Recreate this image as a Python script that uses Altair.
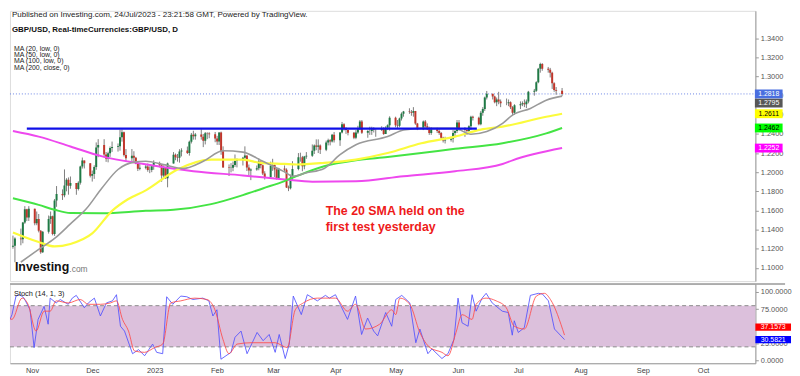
import altair as alt
import pandas as pd
import numpy as np

# ---------------- daily candles (GBP/USD, D) ----------------
first_open = 1.1220
close_vals = [
    # Oct 2022
    1.1232, 1.1307, 1.1300, 1.1474, 1.1612, 1.1526, 1.1619, 1.1467,
    # Nov
    1.1511, 1.1388, 1.1163, 1.1377, 1.1511, 1.1540, 1.1353, 1.1705, 1.1773, 1.1758, 1.1860,
    1.1920, 1.1858, 1.1887, 1.1824, 1.1890, 1.2059, 1.2121, 1.2094, 1.1963, 1.1980, 1.2054,
    # Dec
    1.2258, 1.2283, 1.2185, 1.2140, 1.2198, 1.2252, 1.2264, 1.2272, 1.2366, 1.2417, 1.2180,
    1.2146, 1.2172, 1.2151, 1.2088, 1.2037, 1.2046, 1.2060, 1.2024, 1.2023, 1.2061, 1.2097,
    # Jan 2023
    1.2072, 1.1966, 1.2055, 1.1936, 1.2091, 1.2183, 1.2155, 1.2150, 1.2215, 1.2227, 1.2201,
    1.2318, 1.2390, 1.2376, 1.2394, 1.2370, 1.2328, 1.2407, 1.2405, 1.2396, 1.2352, 1.2321,
    # Feb
    1.2415, 1.2219, 1.2049, 1.2043, 1.2047, 1.2075, 1.2117, 1.2124, 1.2150, 1.2174,
    1.2048, 1.2018, 1.2028, 1.2040, 1.2111, 1.2072, 1.1985, 1.1946, 1.2064, 1.2074,
    # Mar
    1.2028, 1.1934, 1.2038, 1.2025, 1.1841, 1.1833, 1.1944, 1.2032, 1.2155, 1.2155, 1.2062, 1.2165,
    1.2171, 1.2224, 1.2278, 1.2265, 1.2280, 1.2235, 1.2310, 1.2335, 1.2320, 1.2390, 1.2335,
    # Apr
    1.2415, 1.2500, 1.2460, 1.2440, 1.2413, 1.2360, 1.2415, 1.2450, 1.2530, 1.2413,
    1.2430, 1.2430, 1.2450, 1.2440, 1.2440, 1.2455, 1.2400, 1.2465, 1.2490, 1.2570,
    # May
    1.2490, 1.2485, 1.2560, 1.2610, 1.2635, 1.2630, 1.2620, 1.2640, 1.2510, 1.2450, 1.2530, 1.2480,
    1.2450, 1.2410, 1.2450, 1.2430, 1.2410, 1.2360, 1.2330, 1.2340, 1.2350, 1.2410, 1.2430,
    # Jun
    1.2520, 1.2450, 1.2440, 1.2430, 1.2480, 1.2580, 1.2570, 1.2500, 1.2620, 1.2660, 1.2780,
    1.2820, 1.2790, 1.2730, 1.2760, 1.2740, 1.2720, 1.2720, 1.2730, 1.2680, 1.2620, 1.2700,
    # Jul
    1.2710, 1.2720, 1.2710, 1.2740, 1.2840, 1.2850, 1.2940, 1.3080, 1.3130, 1.3080,
    1.3070, 1.3040, 1.2930, 1.2860, 1.2850, 1.2818,
]
high_vals = [
    1.1337, 1.1320, 1.1410, 1.1480, 1.1645, 1.1617, 1.1645, 1.1615,
    1.1589, 1.1563, 1.1395, 1.1384, 1.1547, 1.1589, 1.1546, 1.1720, 1.1855, 1.1820, 1.2029,
    1.1937, 1.1945, 1.1955, 1.1884, 1.1905, 1.2068, 1.2153, 1.2123, 1.2083, 1.2017, 1.2072,
    1.2311, 1.2345, 1.2345, 1.2211, 1.2214, 1.2269, 1.2320, 1.2300, 1.2444, 1.2446, 1.2424,
    1.2242, 1.2242, 1.2219, 1.2160, 1.2099, 1.2087, 1.2080, 1.2090, 1.2061, 1.2070, 1.2124,
    1.2110, 1.2084, 1.2070, 1.2055, 1.2100, 1.2210, 1.2195, 1.2190, 1.2240, 1.2250, 1.2268,
    1.2330, 1.2410, 1.2433, 1.2410, 1.2448, 1.2400, 1.2420, 1.2417, 1.2418, 1.2420, 1.2380,
    1.2418, 1.2424, 1.2270, 1.2081, 1.2095, 1.2112, 1.2185, 1.2144, 1.2160, 1.2270,
    1.2175, 1.2080, 1.2040, 1.2070, 1.2146, 1.2110, 1.2080, 1.2010, 1.2110, 1.2140,
    1.2080, 1.2040, 1.2045, 1.2070, 1.2040, 1.1860, 1.1975, 1.2115, 1.2200, 1.2204, 1.2170, 1.2170,
    1.2210, 1.2290, 1.2290, 1.2343, 1.2343, 1.2290, 1.2330, 1.2350, 1.2345, 1.2400, 1.2420,
    1.2420, 1.2525, 1.2512, 1.2470, 1.2445, 1.2420, 1.2440, 1.2485, 1.2545, 1.2545,
    1.2440, 1.2475, 1.2475, 1.2470, 1.2450, 1.2480, 1.2470, 1.2480, 1.2500, 1.2584,
    1.2580, 1.2545, 1.2570, 1.2625, 1.2640, 1.2668, 1.2650, 1.2680, 1.2640, 1.2515, 1.2540, 1.2545,
    1.2510, 1.2475, 1.2470, 1.2465, 1.2450, 1.2420, 1.2370, 1.2370, 1.2370, 1.2440, 1.2440,
    1.2545, 1.2545, 1.2470, 1.2450, 1.2490, 1.2590, 1.2590, 1.2580, 1.2640, 1.2680, 1.2790,
    1.2849, 1.2820, 1.2800, 1.2780, 1.2840, 1.2760, 1.2770, 1.2760, 1.2740, 1.2690, 1.2710,
    1.2740, 1.2740, 1.2760, 1.2760, 1.2850, 1.2870, 1.2950, 1.3090, 1.3144, 1.3140,
    1.3100, 1.3090, 1.3050, 1.2940, 1.2890, 1.2880,
]
low_vals = [
    1.1200, 1.1059, 1.1236, 1.1257, 1.1460, 1.1489, 1.1490, 1.1445,
    1.1446, 1.1371, 1.1147, 1.1156, 1.1358, 1.1460, 1.1340, 1.1334, 1.1638, 1.1710, 1.1738,
    1.1800, 1.1765, 1.1827, 1.1764, 1.1809, 1.1870, 1.2038, 1.2039, 1.1945, 1.1902, 1.1930,
    1.2025, 1.2157, 1.2155, 1.2108, 1.2103, 1.2160, 1.2212, 1.2215, 1.2225, 1.2319, 1.2164,
    1.2110, 1.2117, 1.2101, 1.2083, 1.2012, 1.2020, 1.2030, 1.2005, 1.1990, 1.2000, 1.2025,
    1.2050, 1.1900, 1.1950, 1.1930, 1.1842, 1.2090, 1.2125, 1.2110, 1.2100, 1.2165, 1.2190,
    1.2173, 1.2300, 1.2340, 1.2340, 1.2340, 1.2262, 1.2290, 1.2345, 1.2355, 1.2313, 1.2285,
    1.2284, 1.2182, 1.2047, 1.1960, 1.1998, 1.2010, 1.2055, 1.2050, 1.2070, 1.2140,
    1.2012, 1.1970, 1.1917, 1.2015, 1.2020, 1.2040, 1.1970, 1.1923, 1.1948, 1.2014,
    1.1950, 1.1923, 1.1936, 1.2000, 1.1835, 1.1802, 1.1820, 1.1908, 1.2020, 1.2110, 1.2010, 1.2030,
    1.2140, 1.2160, 1.2190, 1.2230, 1.2200, 1.2190, 1.2220, 1.2280, 1.2280, 1.2310, 1.2310,
    1.2275, 1.2405, 1.2435, 1.2400, 1.2385, 1.2345, 1.2345, 1.2400, 1.2440, 1.2400,
    1.2360, 1.2390, 1.2390, 1.2415, 1.2370, 1.2430, 1.2390, 1.2400, 1.2440, 1.2435,
    1.2470, 1.2460, 1.2470, 1.2540, 1.2580, 1.2610, 1.2590, 1.2580, 1.2495, 1.2440, 1.2440, 1.2465,
    1.2440, 1.2390, 1.2390, 1.2410, 1.2390, 1.2340, 1.2310, 1.2300, 1.2320, 1.2310, 1.2370,
    1.2410, 1.2435, 1.2370, 1.2390, 1.2400, 1.2440, 1.2540, 1.2490, 1.2490, 1.2590, 1.2640,
    1.2760, 1.2760, 1.2720, 1.2690, 1.2710, 1.2680, 1.2700, 1.2690, 1.2660, 1.2590, 1.2600,
    1.2660, 1.2690, 1.2680, 1.2670, 1.2720, 1.2800, 1.2840, 1.2930, 1.3040, 1.3060,
    1.3040, 1.2990, 1.2870, 1.2840, 1.2810, 1.2797,
]

# ---------------- moving averages ----------------
ma20_dates = ["2022-10-24", "2022-11-02", "2022-11-10", "2022-11-18", "2022-11-26", "2022-12-04",
              "2022-12-12", "2022-12-20", "2022-12-26", "2023-01-04", "2023-01-14", "2023-01-24",
              "2023-02-03", "2023-02-13", "2023-02-23", "2023-03-06", "2023-03-10", "2023-03-17",
              "2023-03-26", "2023-04-03", "2023-04-11", "2023-04-27", "2023-05-05", "2023-05-14",
              "2023-05-31", "2023-06-08", "2023-06-16", "2023-06-24", "2023-06-29", "2023-07-08",
              "2023-07-16", "2023-07-24"]
ma20_vals = [1.106, 1.1193, 1.1307, 1.146, 1.1617, 1.1837, 1.2028, 1.2105, 1.2114, 1.2079, 1.2039,
             1.2114, 1.2224, 1.221, 1.2114, 1.2003, 1.1958, 1.1993, 1.2039, 1.2183, 1.2286, 1.2372,
             1.2441, 1.2458, 1.2458, 1.2396, 1.2424, 1.251, 1.2597, 1.2666, 1.2752, 1.2795]

ma50_dates = ["2022-10-20", "2022-11-02", "2022-11-10", "2022-11-18", "2022-11-29", "2022-12-09",
              "2022-12-17", "2022-12-26", "2023-01-11", "2023-01-28", "2023-02-13", "2023-02-22",
              "2023-03-06", "2023-03-12", "2023-03-26", "2023-04-11", "2023-04-27", "2023-05-14",
              "2023-05-31", "2023-06-13", "2023-06-24", "2023-07-16", "2023-07-24"]
ma50_vals = [1.137, 1.127, 1.1224, 1.125, 1.136, 1.1596, 1.1717, 1.181, 1.2028, 1.2131, 1.2131,
             1.2097, 1.2086, 1.208, 1.2097, 1.2132, 1.220, 1.2303, 1.2372, 1.2445, 1.2476, 1.258,
             1.2611]

ma100_dates = ["2022-10-20", "2022-11-02", "2022-11-10", "2022-11-18", "2022-12-04", "2022-12-26",
               "2023-01-09", "2023-01-28", "2023-02-13", "2023-02-23", "2023-03-06", "2023-03-12",
               "2023-03-26", "2023-04-11", "2023-04-27", "2023-05-14", "2023-05-31", "2023-06-24",
               "2023-07-16", "2023-07-24"]
ma100_vals = [1.1728, 1.1658, 1.1607, 1.1573, 1.157, 1.1596, 1.1607, 1.1666, 1.176, 1.183, 1.1907,
              1.1958, 1.2062, 1.2124, 1.2158, 1.220, 1.2245, 1.2303, 1.2406, 1.2462]

ma200_dates = ["2022-10-20", "2022-11-02", "2022-11-18", "2022-12-04", "2022-12-25", "2023-01-19",
               "2023-02-13", "2023-03-06", "2023-03-20", "2023-04-11", "2023-05-05", "2023-05-31",
               "2023-06-24", "2023-06-29", "2023-07-24"]
ma200_vals = [1.2431, 1.2372, 1.2269, 1.2165, 1.2085, 1.201, 1.1966, 1.1924, 1.190, 1.1905, 1.1958,
              1.201, 1.2086, 1.2124, 1.2252]

# drawn resistance line
level_dates = ["2022-10-27", "2023-06-11"]
level_vals = [1.2455, 1.2455]
last_price = 1.2818

# ---------------- stochastic (14, 1, 3) ----------------
k_dates = ["2022-10-20", "2022-10-22", "2022-10-24", "2022-10-26", "2022-10-28", "2022-10-31",
           "2022-11-02", "2022-11-04", "2022-11-07", "2022-11-09", "2022-11-10", "2022-11-13",
           "2022-11-15", "2022-11-19", "2022-11-21", "2022-11-23", "2022-11-27", "2022-11-29",
           "2022-12-02", "2022-12-05", "2022-12-08", "2022-12-11", "2022-12-13", "2022-12-15",
           "2022-12-17", "2022-12-21", "2022-12-24", "2022-12-27", "2022-12-31", "2023-01-02",
           "2023-01-05", "2023-01-07", "2023-01-10", "2023-01-14", "2023-01-17", "2023-01-20",
           "2023-01-25", "2023-01-28", "2023-01-30", "2023-02-01", "2023-02-03", "2023-02-08",
           "2023-02-10", "2023-02-13", "2023-02-16", "2023-02-21", "2023-02-24", "2023-02-27",
           "2023-03-02", "2023-03-04", "2023-03-07", "2023-03-09", "2023-03-11", "2023-03-15",
           "2023-03-18", "2023-03-23", "2023-03-27", "2023-03-29", "2023-04-01", "2023-04-07",
           "2023-04-11", "2023-04-14", "2023-04-17", "2023-04-20", "2023-04-22", "2023-04-26",
           "2023-04-29", "2023-05-01", "2023-05-04", "2023-05-08", "2023-05-11", "2023-05-13",
           "2023-05-17", "2023-05-19", "2023-05-24", "2023-05-27", "2023-05-30", "2023-06-01",
           "2023-06-03", "2023-06-06", "2023-06-08", "2023-06-10", "2023-06-13", "2023-06-15",
           "2023-06-18", "2023-06-23", "2023-06-26", "2023-06-28", "2023-06-29", "2023-07-01",
           "2023-07-04", "2023-07-07", "2023-07-11", "2023-07-13", "2023-07-16", "2023-07-19",
           "2023-07-24"]
k_vals = [53, 67, 94, 96, 91, 74, 19, 60, 79, 53, 91, 84, 89, 82, 91, 95, 77, 84, 91, 65, 84, 87,
          96, 50, 43, 10, 16, 7, 24, 12, 10, 93, 82, 94, 93, 89, 91, 87, 65, 74, 2, 12, 34, 43,
          10, 41, 29, 38, 12, 38, 3, 24, 94, 67, 96, 87, 95, 91, 96, 60, 94, 38, 62, 43, 36, 70,
          50, 89, 95, 84, 26, 46, 10, 17, 3, 10, 31, 91, 55, 50, 96, 72, 91, 98, 84, 72, 70, 37,
          58, 41, 48, 95, 98, 97, 87, 46, 30.5821]

d_dates = ["2022-10-20", "2022-10-22", "2022-10-27", "2022-10-30", "2022-11-03", "2022-11-07",
           "2022-11-10", "2022-11-13", "2022-11-19", "2022-11-25", "2022-11-29", "2022-12-05",
           "2022-12-10", "2022-12-13", "2022-12-16", "2022-12-19", "2022-12-22", "2022-12-27",
           "2023-01-01", "2023-01-05", "2023-01-09", "2023-01-14", "2023-01-21", "2023-01-27",
           "2023-01-31", "2023-02-04", "2023-02-07", "2023-02-11", "2023-02-18", "2023-02-24",
           "2023-03-02", "2023-03-08", "2023-03-12", "2023-03-16", "2023-03-23", "2023-04-01",
           "2023-04-07", "2023-04-11", "2023-04-16", "2023-04-23", "2023-04-29", "2023-05-01",
           "2023-05-03", "2023-05-08", "2023-05-13", "2023-05-18", "2023-05-24", "2023-05-27",
           "2023-05-31", "2023-06-03", "2023-06-08", "2023-06-10", "2023-06-15", "2023-06-20",
           "2023-06-25", "2023-06-29", "2023-07-04", "2023-07-10", "2023-07-14", "2023-07-17",
           "2023-07-24"]
d_vals = [65, 60, 91, 82, 43, 72, 72, 87, 84, 89, 82, 82, 84, 87, 60, 43, 14, 12, 19, 24, 84, 87,
          91, 89, 74, 31, 10, 24, 26, 26, 26, 19, 74, 84, 91, 91, 72, 82, 46, 53, 74, 67, 91, 82,
          41, 19, 12, 7, 41, 67, 60, 82, 91, 87, 77, 50, 46, 94, 98, 89, 37.1573]

# ---------------- axis ticks & labels ----------------
price_ticks = [1.10, 1.12, 1.14, 1.16, 1.18, 1.20, 1.22, 1.24, 1.26, 1.28, 1.30, 1.32, 1.34]
stoch_ticks = [0, 25, 50, 75, 100]
month_ticks = [(2022, 11), (2022, 12), (2023, 1), (2023, 2), (2023, 3), (2023, 4), (2023, 5),
               (2023, 6), (2023, 7), (2023, 8), (2023, 9), (2023, 10)]

header_text = "Published on Investing.com, 24/Jul/2023 - 23:21:58 GMT, Powered by TradingView."
title_text = "GBP/USD, Real-timeCurrencies:GBP/USD, D"
ma_legend = ["MA (20, low, 0)", "MA (50, low, 0)", "MA (100, low, 0)", "MA (200, close, 0)"]
note_lines = ["The 20 SMA held on the", "first test yesterday"]

# ---------------- build tables ----------------
dates = pd.bdate_range("2022-10-20", "2023-07-24")
if not (len(dates) == len(close_vals) == len(high_vals) == len(low_vals)):
    raise ValueError(f"lengths {len(dates)} {len(close_vals)} {len(high_vals)} {len(low_vals)}")
opens = [first_open] + close_vals[:-1]
candles = pd.DataFrame({
    "date": dates.strftime("%Y-%m-%d"),
    "open": opens, "close": close_vals, "high": high_vals, "low": low_vals,
})
candles["high"] = candles[["high", "open", "close"]].max(axis=1)
candles["low"] = candles[["low", "open", "close"]].min(axis=1)
candles["dir"] = np.where(candles["close"] >= candles["open"], "up", "down")

FONT = "Liberation Sans"
W, H_UP, H_LO = 753, 273, 80

xscale = alt.Scale(type="utc", domain=[alt.DateTime(year=2022, month=10, date=21, utc=True),
                                       alt.DateTime(year=2023, month=10, date=27, utc=True)])
ys_up = alt.Scale(domain=[1.08617, 1.36863], nice=False, zero=False)
ys_lo = alt.Scale(domain=[-3.9, 111.5], nice=False, zero=False)

ax_up = alt.Axis(orient="right", values=price_ticks, format=".4f", grid=False, title=None,
                 domainColor="#9a9a9a", tickColor="#9a9a9a", tickSize=3, labelFontSize=7.5,
                 labelFont=FONT, labelColor="#555555", labelPadding=2)
ax_lo = alt.Axis(orient="right", values=stoch_ticks, format=".4f", grid=False, title=None,
                 domainColor="#9a9a9a", tickColor="#9a9a9a", tickSize=3, labelFontSize=7.5,
                 labelFont=FONT, labelColor="#555555", labelPadding=2)
ax_x = alt.Axis(values=[alt.DateTime(year=y, month=m, date=1, utc=True) for y, m in month_ticks],
                labelExpr="utcFormat(datum.value, '%m') == '01' ? utcFormat(datum.value, '%Y') : utcFormat(datum.value, '%b')",
                grid=False, title=None, ticks=False, domainColor="#9a9a9a", labelFont=FONT,
                labelFontSize=7.5, labelColor="#444444", labelPadding=3)


def xu(field):
    return alt.X(field, type="temporal", scale=xscale, axis=None)


def xl(field):
    return alt.X(field, type="temporal", scale=xscale, axis=ax_x)


def yu(field):
    return alt.Y(field, type="quantitative", scale=ys_up, axis=ax_up)


def yl(field):
    return alt.Y(field, type="quantitative", scale=ys_lo, axis=ax_lo)


def line_df(ds, vs):
    return pd.DataFrame({"date": ds, "v": vs})


# ---------------- upper panel ----------------
last_rule = alt.Chart(pd.DataFrame({"v": [last_price]})).mark_rule(
    color="#6b85e6", strokeDash=[1, 2], strokeWidth=1
).encode(y=yu("v"), x=alt.value(0), x2=alt.value(W))

wicks = alt.Chart(candles).mark_rule(color="#7d7d7d", strokeWidth=1, clip=True).encode(
    x=xu("date"), y=yu("low"), y2="high")
bodies = alt.Chart(candles).mark_bar(size=2, clip=True).encode(
    x=xu("date"), y=yu("open"), y2="close",
    color=alt.Color("dir:N", scale=alt.Scale(domain=["up", "down"], range=["#1f7a45", "#c1362b"]),
                    legend=None))


def ma_layer(ds, vs, color, width):
    return alt.Chart(line_df(ds, vs)).mark_line(
        color=color, strokeWidth=width, interpolate="monotone", clip=True
    ).encode(x=xu("date"), y=yu("v"))


ma200 = ma_layer(ma200_dates, ma200_vals, "#ee48ee", 2)
ma100 = ma_layer(ma100_dates, ma100_vals, "#44e444", 2)
ma50 = ma_layer(ma50_dates, ma50_vals, "#fbfb3c", 2.2)
ma20 = ma_layer(ma20_dates, ma20_vals, "#9a9a9a", 1.6)

level = alt.Chart(line_df(level_dates, level_vals)).mark_line(
    color="#1010e8", strokeWidth=2.4, clip=True).encode(x=xu("date"), y=yu("v"))

one = pd.DataFrame({"a": [0]})
header = alt.Chart(one).mark_text(text=header_text, font=FONT, fontSize=8.1, color="#222222",
                                  align="left", baseline="middle").encode(
    x=alt.value(2), y=alt.value(4))
title = alt.Chart(one).mark_text(text=title_text, font=FONT, fontSize=8, fontWeight="bold",
                                 color="#111111", align="left", baseline="middle").encode(
    x=alt.value(2), y=alt.value(19))
legend = alt.Chart(one).mark_text(text="\n".join(ma_legend), lineBreak="\n", lineHeight=6.1,
                                  font=FONT, fontSize=7, color="#222222", align="left",
                                  baseline="middle").encode(x=alt.value(4), y=alt.value(39))
note = alt.Chart(one).mark_text(text="\n".join(note_lines), lineBreak="\n", lineHeight=16,
                                font=FONT, fontSize=12.5, fontWeight="bold", color="#ee1a1a",
                                align="left", baseline="middle").encode(
    x=alt.value(319), y=alt.value(202))
logo = alt.Chart(one).mark_text(text="Investing", font=FONT, fontSize=12.5, fontWeight="bold",
                                color="#111111", align="left", baseline="middle").encode(
    x=alt.value(5), y=alt.value(259))
logo_com = alt.Chart(one).mark_text(text=".com", font=FONT, fontSize=8.5, color="#777777",
                                    align="left", baseline="middle").encode(
    x=alt.value(60), y=alt.value(261))


def tag(value, text, bg, fg, yscale_fn, xc, width, half_h, dy=0):
    base = alt.Chart(pd.DataFrame({"v": [value], "t": [text]}))
    shape = f"M-1,-{half_h}L1,-{half_h}L1,{half_h}L-1,{half_h}Z"
    box = base.mark_point(shape=shape, size=width * width, filled=True, fill=bg, opacity=1,
                          strokeWidth=0, yOffset=dy).encode(x=alt.value(xc), y=yscale_fn("v"))
    txt = base.mark_text(color=fg, font=FONT, fontSize=7, align="center", baseline="middle",
                         yOffset=dy).encode(x=alt.value(xc), y=yscale_fn("v"), text="t:N")
    return [box, txt]


up_tags = []
up_tags += tag(1.2252, "1.2252", "#ff00ff", "white", yu, 766.5, 28, 0.32)
up_tags += tag(1.2462, "1.2462", "#00ff00", "black", yu, 766.5, 28, 0.32)
up_tags += tag(1.2611, "1.2611", "#ffff00", "black", yu, 766.5, 28, 0.32)
up_tags += tag(1.2795, "1.2795", "#575757", "white", yu, 766.5, 28, 0.32, dy=7)
up_tags += tag(1.2818, "1.2818", "#4a6fe0", "white", yu, 766.5, 28, 0.32)

upper = alt.layer(
    last_rule, wicks, bodies, ma200, ma100, ma50, ma20, level,
    header, title, legend, note, logo, logo_com, *up_tags
).properties(width=W, height=H_UP)

# ---------------- lower panel ----------------
band = alt.Chart(pd.DataFrame({"lo": [20], "hi": [80]})).mark_rect(color="#dcc0dc").encode(
    y=yl("lo"), y2="hi", x=alt.value(0), x2=alt.value(W))
band_lines = alt.Chart(pd.DataFrame({"v": [20, 80]})).mark_rule(
    color="#8a8a8a", strokeDash=[4, 3], strokeWidth=1).encode(
    y=yl("v"), x=alt.value(0), x2=alt.value(W))
sep = alt.Chart(one).mark_rule(color="#9a9a9a", strokeWidth=1.5).encode(
    y=alt.value(0), x=alt.value(0), x2=alt.value(783))
k_line = alt.Chart(line_df(k_dates, k_vals)).mark_line(
    color="#5050ff", strokeWidth=1, opacity=0.85, clip=True).encode(x=xl("date"), y=yl("v"))
d_line = alt.Chart(line_df(d_dates, d_vals)).mark_line(
    color="#ff4a4a", strokeWidth=1, opacity=0.85, clip=True, interpolate="monotone").encode(
    x=xl("date"), y=yl("v"))
stoch_lbl = alt.Chart(one).mark_text(text="Stoch (14, 1, 3)", font=FONT, fontSize=7.5,
                                     color="#222222", align="left", baseline="middle").encode(
    x=alt.value(4), y=alt.value(10))

lo_tags = []
lo_tags += tag(30.5821, "30.5821", "#0000ff", "white", yl, 771, 36, 0.2)
lo_tags += tag(37.1573, "37.1573", "#ff0000", "white", yl, 771, 36, 0.2, dy=-8)

lower = alt.layer(
    band, band_lines, k_line, d_line, sep, stoch_lbl, *lo_tags
).properties(width=W, height=H_LO)

chart = alt.vconcat(upper, lower, spacing=0).properties(padding=0).configure_view(
    stroke=None).configure(font=FONT)

chart.save("out.html", embed_options={"renderer": "svg", "actions": False})
